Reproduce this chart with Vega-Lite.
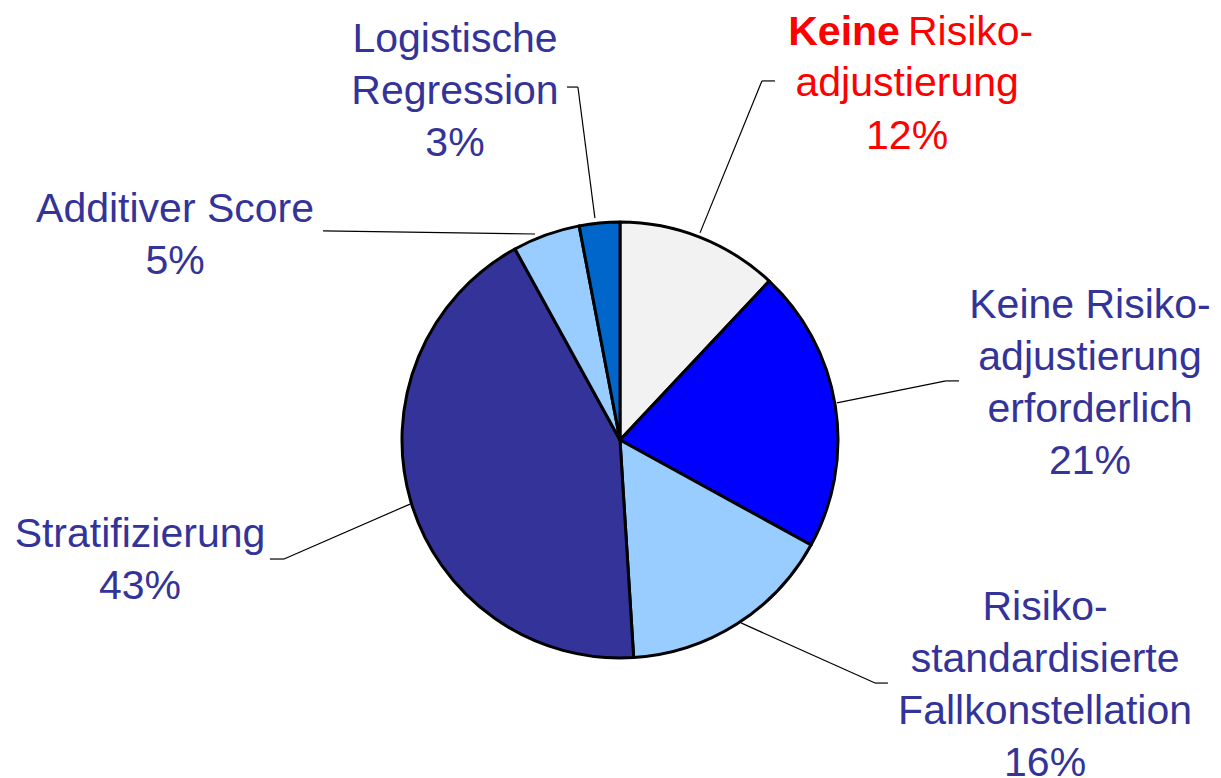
{
  "$schema": "https://vega.github.io/schema/vega-lite/v6.json",
  "width": 1221,
  "height": 778,
  "autosize": "none",
  "padding": 0,
  "background": "white",
  "config": {"view": {"stroke": null}},
  "datasets": {
    "slices": [
      {"cat": "Keine Risikoadjustierung", "value": 12, "ord": 1},
      {"cat": "Keine Risikoadjustierung erforderlich", "value": 21, "ord": 2},
      {"cat": "Risikostandardisierte Fallkonstellation", "value": 16, "ord": 3},
      {"cat": "Stratifizierung", "value": 43, "ord": 4},
      {"cat": "Additiver Score", "value": 5, "ord": 5},
      {"cat": "Logistische Regression", "value": 3, "ord": 6}
    ],
    "leaders": [
      {"x": 0.367, "y": 0.950, "x2": 0.651, "y2": 1.647},
      {"x": 0.651, "y": 1.647, "x2": 0.711, "y2": 1.647},
      {"x": 0.995, "y": 0.170, "x2": 1.495, "y2": 0.271},
      {"x": 1.495, "y": 0.271, "x2": 1.555, "y2": 0.271},
      {"x": 0.555, "y": -0.839, "x2": 1.170, "y2": -1.115},
      {"x": 1.170, "y": -1.115, "x2": 1.229, "y2": -1.115},
      {"x": -0.963, "y": -0.294, "x2": -1.541, "y2": -0.546},
      {"x": -1.541, "y": -0.546, "x2": -1.606, "y2": -0.546},
      {"x": -0.390, "y": 0.945, "x2": -1.362, "y2": 0.959},
      {"x": -0.115, "y": 1.018, "x2": -0.193, "y2": 1.619},
      {"x": -0.193, "y": 1.619, "x2": -0.243, "y2": 1.619}
    ],
    "labels": [
      {"t": "Logistische\nRegression\n3%", "x": -0.757, "y": 1.780, "grp": "blue"},
      {"t": "Additiver Score\n5%", "x": -2.041, "y": 1.000, "grp": "blue"},
      {"t": "Stratifizierung\n43%", "x": -2.202, "y": -0.491, "grp": "blue"},
      {"t": "Keine Risiko-\nadjustierung\nerforderlich\n21%", "x": 2.156, "y": 0.560, "grp": "blue"},
      {"t": "Risiko-\nstandardisierte\nFallkonstellation\n16%", "x": 1.950, "y": -0.826, "grp": "blue"},
      {"t": "adjustierung\n12%", "x": 1.317, "y": 1.578, "grp": "red"},
      {"t": "Keine", "x": 1.284, "y": 1.812, "grp": "redbold"},
      {"t": "Risiko-", "x": 1.321, "y": 1.812, "grp": "redleft"}
    ]
  },
  "layer": [
    {
      "data": {"name": "slices"},
      "mark": {"type": "arc", "outerRadius": 218, "stroke": "black", "strokeWidth": 3, "strokeJoin": "round"},
      "encoding": {
        "theta": {"field": "value", "type": "quantitative", "stack": true},
        "order": {"field": "ord", "type": "quantitative"},
        "color": {
          "field": "cat",
          "type": "nominal",
          "legend": null,
          "scale": {
            "domain": ["Keine Risikoadjustierung", "Keine Risikoadjustierung erforderlich", "Risikostandardisierte Fallkonstellation", "Stratifizierung", "Additiver Score", "Logistische Regression"],
            "range": ["#f2f2f2", "#0000ff", "#99ccff", "#333399", "#99ccff", "#0066cc"]
          }
        },
        "x": {"datum": 0, "type": "quantitative", "scale": {"domain": [-2.844, 2.7569], "nice": false, "zero": false}, "axis": null},
        "y": {"datum": 0, "type": "quantitative", "scale": {"domain": [-1.5505, 2.0183], "nice": false, "zero": false}, "axis": null}
      }
    },
    {
      "data": {"name": "leaders"},
      "mark": {"type": "rule", "color": "black", "strokeWidth": 1.2},
      "encoding": {
        "x": {"field": "x", "type": "quantitative"},
        "y": {"field": "y", "type": "quantitative"},
        "x2": {"field": "x2"},
        "y2": {"field": "y2"}
      }
    },
    {
      "data": {"name": "labels"},
      "transform": [{"filter": "datum.grp === 'blue'"}],
      "mark": {"type": "text", "font": "Liberation Sans", "fontSize": 41, "lineHeight": 52, "lineBreak": "\n", "align": "center", "baseline": "alphabetic", "color": "#333399"},
      "encoding": {
        "x": {"field": "x", "type": "quantitative"},
        "y": {"field": "y", "type": "quantitative"},
        "text": {"field": "t", "type": "nominal"}
      }
    },
    {
      "data": {"name": "labels"},
      "transform": [{"filter": "datum.grp === 'red'"}],
      "mark": {"type": "text", "font": "Liberation Sans", "fontSize": 41, "lineHeight": 53, "lineBreak": "\n", "align": "center", "baseline": "alphabetic", "color": "#ff0000"},
      "encoding": {
        "x": {"field": "x", "type": "quantitative"},
        "y": {"field": "y", "type": "quantitative"},
        "text": {"field": "t", "type": "nominal"}
      }
    },
    {
      "data": {"name": "labels"},
      "transform": [{"filter": "datum.grp === 'redbold'"}],
      "mark": {"type": "text", "font": "Liberation Sans", "fontSize": 41, "fontWeight": "bold", "align": "right", "baseline": "alphabetic", "color": "#ff0000"},
      "encoding": {
        "x": {"field": "x", "type": "quantitative"},
        "y": {"field": "y", "type": "quantitative"},
        "text": {"field": "t", "type": "nominal"}
      }
    },
    {
      "data": {"name": "labels"},
      "transform": [{"filter": "datum.grp === 'redleft'"}],
      "mark": {"type": "text", "font": "Liberation Sans", "fontSize": 41, "align": "left", "baseline": "alphabetic", "color": "#ff0000"},
      "encoding": {
        "x": {"field": "x", "type": "quantitative"},
        "y": {"field": "y", "type": "quantitative"},
        "text": {"field": "t", "type": "nominal"}
      }
    }
  ]
}
